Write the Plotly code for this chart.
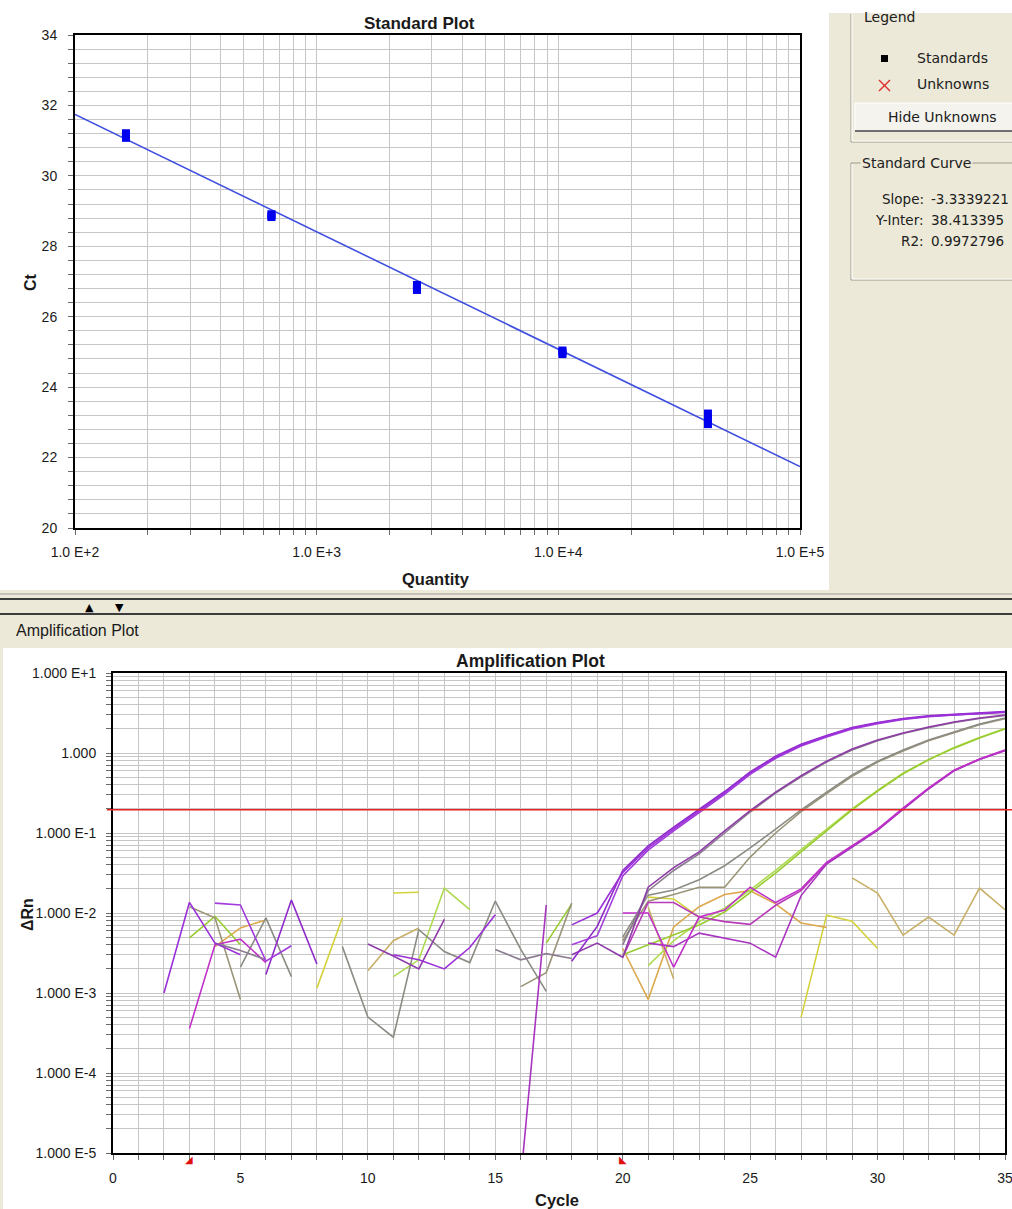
import math
import plotly.graph_objects as go

W, H = 1012, 1209
BEIGE = "#ECE9D8"

# ---------------- Standard plot data ----------------
std_quantity = [162.5, 650, 2600, 10400, 41600]
std_ct_rep1 = [31.21, 28.91, 26.90, 25.04, 23.25]
std_ct_rep2 = [31.15, 28.87, 26.83, 24.99, 23.10]
std_ct_rep3 = [31.08, 28.83, 26.76, 24.94, 22.95]
curve_slope = -3.3339221
curve_intercept = 38.413395
curve_r2 = 0.9972796
quantity_range = [1e2, 1e5]

std_x_tick_labels = ["1.0 E+2", "1.0 E+3", "1.0 E+4", "1.0 E+5"]
std_y_tick_labels = ["20", "22", "24", "26", "28", "30", "32", "34"]

# ---------------- Amplification plot data (delta Rn per cycle 1..35) ----------------
cycles = list(range(1, 36))
N = None
rn_a1 = [N, 0.0010, 0.0136, 0.0042, 0.0030, N, N, N, N, N,
         0.0030, 0.0026, 0.0020, 0.0037, 0.0095, N, N, 0.0071, 0.0100, 0.0320,
         0.0650, 0.1120, 0.1900, 0.3200, 0.5600, 0.8900, 1.2600, 1.6300, 2.0500, 2.3700,
         2.6600, 2.8800, 3.0000, 3.1200, 3.2500]
rn_a2 = [N, N, N, 0.0133, 0.0126, 0.0025, 0.0039, N, N, N,
         N, N, N, N, N, N, N, 0.0040, 0.0052, 0.0290,
         0.0610, 0.1060, 0.1820, 0.3050, 0.5400, 0.8600, 1.2200, 1.5900, 2.0000, 2.3300,
         2.6200, 2.8400, 2.9800, 3.1000, 3.2200]
rn_a3 = [N, N, N, N, N, 0.0017, 0.0145, 0.0023, N, N,
         N, N, N, N, N, N, N, 0.0025, 0.0068, 0.0340,
         0.0690, 0.1180, 0.1980, 0.3300, 0.5800, 0.9100, 1.2900, 1.6600, 2.0800, 2.4000,
         2.6900, 2.9100, 3.0400, 3.1600, 3.2900]
rn_b1 = [N, N, N, N, N, N, N, N, N, 0.0041,
         0.0029, 0.0020, 0.0083, N, N, N, N, 0.0030, 0.0042, 0.0028,
         0.0210, 0.0370, 0.0580, 0.1060, 0.1900, 0.3250, 0.5200, 0.7900, 1.1200, 1.4500,
         1.7800, 2.1100, 2.4400, 2.7400, 2.9800]
rn_b2 = [N, N, N, 0.0042, 0.0034, 0.0026, N, N, N, N,
         N, N, N, N, 0.0035, 0.0026, 0.0031, 0.0027, N, 0.0040,
         0.0190, 0.0340, 0.0550, 0.1000, 0.1830, 0.3150, 0.5050, 0.7700, 1.0900, 1.4200,
         1.7500, 2.0700, 2.4000, 2.7000, 2.9400]
rn_c1 = [N, N, N, N, 0.0021, 0.0087, 0.0016, N, 0.0038, 0.0005,
         0.00028, 0.0062, 0.0033, 0.0024, 0.0141, 0.0035, 0.00105, N, N, 0.0050,
         0.0167, 0.0194, 0.0260, 0.0390, 0.0650, 0.1120, 0.1940, 0.3250, 0.5300, 0.7900,
         1.0900, 1.4500, 1.8300, 2.3000, 2.7400]
rn_c2 = [N, N, 0.0120, 0.0087, 0.00083, N, N, N, N, N,
         N, N, N, N, N, 0.0012, 0.0018, 0.0133, N, 0.0045,
         0.0140, 0.0170, 0.0210, 0.0210, 0.0500, 0.1000, 0.1850, 0.3100, 0.5100, 0.7700,
         1.0600, 1.4200, 1.8000, 2.2500, 2.6800]
rn_d1 = [N, N, 0.0049, 0.0091, 0.0040, N, N, N, N, N,
         N, N, N, N, N, N, 0.0042, 0.0130, N, 0.0030,
         0.0040, 0.0053, 0.0071, 0.0103, 0.0178, 0.0316, 0.0580, 0.1060, 0.1940, 0.3350,
         0.5500, 0.8200, 1.1500, 1.5400, 2.0000]
rn_d2 = [N, N, N, N, N, N, N, N, N, N,
         0.0016, 0.0026, 0.0205, 0.0110, N, N, N, N, N, N,
         0.0022, 0.0045, 0.0078, 0.0115, 0.0195, 0.0340, 0.0620, 0.1120, 0.2000, 0.3400,
         0.5600, 0.8300, 1.1700, 1.5600, 2.0200]
rn_e1 = [N, N, 0.00036, 0.0040, 0.0047, 0.0024, N, N, N, N,
         N, N, N, N, N, N, N, N, N, 0.0100,
         0.0100, 0.0021, 0.0089, 0.0109, 0.0210, 0.0135, 0.0200, 0.0430, 0.0690, 0.1120,
         0.2050, 0.3650, 0.6100, 0.8400, 1.0900]
rn_e2 = [N, N, N, N, N, N, N, N, N, N,
         N, N, N, N, N, 0.0000047, 0.0126, N, N, N,
         0.0042, 0.0038, 0.0056, 0.0049, 0.0042, 0.0028, 0.0165, 0.0410, 0.0670, 0.1080,
         0.1980, 0.3550, 0.6000, 0.8300, 1.0700]
rn_e3 = [N, N, N, N, N, N, N, N, N, N,
         N, N, N, N, N, N, N, N, N, 0.0028,
         0.0135, 0.0135, 0.0089, 0.0078, 0.0072, 0.0125, 0.0190, 0.0420, 0.0680, 0.1100,
         0.2020, 0.3600, 0.6050, 0.8350, 1.0800]
rn_tan = [N, N, N, N, N, N, N, N, N, 0.0019,
          0.0045, 0.0065, N, N, N, N, N, N, N, N,
          0.0118, 0.0015, N, N, N, N, N, N, 0.0275, 0.0178,
          0.0053, 0.0089, 0.0053, 0.0205, 0.0110]
rn_yellow = [N, N, N, N, N, N, N, 0.00115, 0.0087, N,
             0.0178, 0.0182, N, N, N, N, N, N, N, N,
             0.0158, 0.0150, 0.0089, N, N, N, 0.0005, 0.0094, 0.0079, 0.0036,
             N, N, N, N, N]
rn_orange = [N, N, N, 0.0038, 0.0065, 0.0082, N, N, N, N,
             N, N, N, N, N, N, N, N, N, 0.0036,
             0.00083, 0.0067, 0.0120, 0.0170, 0.0190, 0.0130, 0.0075, 0.0066, N, N,
             N, N, N, N, N]

threshold = 0.195
baseline_start = 3
baseline_end = 20

amp_x_tick_labels = ["0", "5", "10", "15", "20", "25", "30", "35"]
amp_y_tick_labels = ["1.000 E-5", "1.000 E-4", "1.000 E-3", "1.000 E-2",
                     "1.000 E-1", "1.000", "1.000 E+1"]

amp_series = [
    (rn_tan, "#C8B068"), (rn_yellow, "#D4D23C"), (rn_orange, "#DCA84C"),
    (rn_d2, "#AEDA50"), (rn_d1, "#98CC30"),
    (rn_c2, "#9A9478"), (rn_c1, "#8C8C84"),
    (rn_e3, "#B83AB8"), (rn_e2, "#A834C0"), (rn_e1, "#C030C8"),
    (rn_b2, "#8C7C90"), (rn_b1, "#8E3CA8"),
    (rn_a3, "#8F2ACB"), (rn_a2, "#A23CDC"), (rn_a1, "#9B30D8"),
]


def px(x):
    return x / W


def py(y):
    return 1 - y / H


fig = go.Figure()

# ---- Standard curve ----
fit_ct = [curve_slope * math.log10(q) + curve_intercept for q in quantity_range]
fig.add_trace(go.Scatter(x=quantity_range, y=fit_ct, mode="lines",
                         line=dict(color="#3F4FE0", width=1.6),
                         xaxis="x", yaxis="y", hoverinfo="skip"))
for reps in (std_ct_rep1, std_ct_rep2, std_ct_rep3):
    fig.add_trace(go.Scatter(x=std_quantity, y=reps, mode="markers",
                             marker=dict(symbol="square", size=8, color="#0000EE"),
                             xaxis="x", yaxis="y"))

# ---- Amplification curves ----
for vals, col in amp_series:
    fig.add_trace(go.Scatter(x=cycles, y=vals, mode="lines",
                             line=dict(color=col, width=1.6),
                             connectgaps=False, xaxis="x2", yaxis="y2"))

# ---- tick arrays ----
sx_vals, sx_text = [], []
for k in range(2, 5):
    for m in range(1, 10):
        sx_vals.append(m * 10 ** k)
        sx_text.append(std_x_tick_labels[k - 2] if m == 1 else "")
sx_vals.append(10 ** 5)
sx_text.append(std_x_tick_labels[3])

sy_vals, sy_text = [], []
for i in range(36):
    v = 20 + 0.4 * i
    r = round(v)
    sy_vals.append(v)
    if abs(v - r) < 1e-6 and r % 2 == 0:
        sy_text.append(std_y_tick_labels[(r - 20) // 2])
    else:
        sy_text.append("")

ax_vals = list(range(0, 36))
ax_text = [amp_x_tick_labels[i // 5] if i % 5 == 0 else "" for i in ax_vals]

ay_vals, ay_text = [], []
for k in range(-5, 1):
    for m in range(1, 10):
        ay_vals.append(m * 10.0 ** k)
        ay_text.append(amp_y_tick_labels[k + 5] if m == 1 else "")
ay_vals.append(10.0)
ay_text.append(amp_y_tick_labels[6])

tickfont = dict(family="Liberation Sans, Arial", size=14, color="#1A1A1A")
common = dict(showgrid=True, gridcolor="#C6C6C6", gridwidth=1, zeroline=False,
              showline=True, linecolor="#000000", linewidth=2, mirror=True,
              ticks="outside", ticklen=5, tickwidth=1, tickcolor="#6A6A6A",
              tickfont=tickfont, tickmode="array", fixedrange=True, automargin=False,
              ticklabeloverflow="allow")

# ---- shapes ----
shapes = []


def rect(x0, y0, x1, y1, fill, lc=None, lw=0, layer="below"):
    d = dict(type="rect", xref="paper", yref="paper", x0=px(x0), x1=px(x1),
             y0=py(y1), y1=py(y0), fillcolor=fill, layer=layer,
             line=dict(width=lw, color=lc or fill))
    shapes.append(d)


def line(x0, y0, x1, y1, color, width=1, layer="below"):
    shapes.append(dict(type="line", xref="paper", yref="paper", x0=px(x0), x1=px(x1),
                       y0=py(y0), y1=py(y1), line=dict(color=color, width=width), layer=layer))


# white panels
rect(0, 0, 829, 590, "#FFFFFF")
rect(829, 0, 1012, 13, "#FFFFFF")
rect(3, 648, 1012, 1209, "#FFFFFF")

# separator
line(0, 594, 1012, 594, "#9A9A9A", 1)
line(0, 599, 1012, 599, "#3C3C3C", 2)
line(0, 614, 1012, 614, "#3C3C3C", 2)

# legend group box
line(851, 14, 851, 142, "#9C9A8C", 1)
line(852, 14, 852, 141, "#FFFFFF", 1)
line(851, 142, 1012, 142, "#9C9A8C", 1)
line(852, 141, 1012, 141, "#FFFFFF", 1)
# legend symbols
rect(881, 55, 888, 62, "#000000")
line(879, 80, 890, 91, "#E03030", 1.4)
line(879, 91, 890, 80, "#E03030", 1.4)
# button
rect(855, 103, 1012, 131, "#F4F3EE")
line(855, 103, 1012, 103, "#FFFFFF", 1)
line(855, 103, 855, 131, "#FFFFFF", 1)
line(855, 131, 1012, 131, "#6F6F6F", 2)
# standard curve group box
line(851, 163, 1012, 163, "#9C9A8C", 1)
line(851, 163, 851, 280, "#9C9A8C", 1)
line(852, 164, 852, 279, "#FFFFFF", 1)
line(851, 280, 1012, 280, "#9C9A8C", 1)
line(852, 279, 1012, 279, "#FFFFFF", 1)

# threshold line
shapes.append(dict(type="line", xref="paper", yref="y2", x0=px(107), x1=1,
                   y0=threshold, y1=threshold, line=dict(color="#E82020", width=1.6),
                   layer="above"))

# ---- annotations ----
ann = []


def text(x, y, s, size=14, family="Liberation Sans, Arial", color="#1A1A1A",
         xanchor="center", yanchor="middle", angle=0, bg=None, xref="paper"):
    d = dict(x=px(x) if xref == "paper" else x, y=py(y), xref=xref, yref="paper",
             text=s, showarrow=False, xanchor=xanchor, yanchor=yanchor, textangle=angle,
             font=dict(size=size, family=family, color=color))
    if bg:
        d["bgcolor"] = bg
    ann.append(d)


text(419, 24, "<b>Standard Plot</b>", size=17)
text(436, 579, "<b>Quantity</b>", size=16.5)
text(30, 282, "<b>Ct</b>", size=16, angle=-90)
text(530, 661, "<b>Amplification Plot</b>", size=17.5)
text(557, 1200, "<b>Cycle</b>", size=16.5)
text(27, 915, "<b>ΔRn</b>", size=16, angle=-90)
text(14, 630, "Amplification Plot", size=16, xanchor="left")
text(89, 607, "▲", size=11, family="DejaVu Sans", color="#000000")
text(119, 607, "▼", size=11, family="DejaVu Sans", color="#000000")

pf = "DejaVu Sans"
text(862, 17, "Legend", size=14, family=pf, xanchor="left", color="#202020")
text(915, 58, "Standards", size=14, family=pf, xanchor="left", color="#202020")
text(915, 84, "Unknowns", size=14, family=pf, xanchor="left", color="#202020")
text(942, 117, "Hide Unknowns", size=14, family=pf, color="#202020")
text(860, 163, "Standard Curve", size=14, family=pf, xanchor="left", color="#202020", bg=BEIGE)
text(926, 199, "Slope:", size=13.5, family=pf, xanchor="right", color="#202020")
text(926, 220, "Y-Inter:", size=13.5, family=pf, xanchor="right", color="#202020")
text(926, 241, "R2:", size=13.5, family=pf, xanchor="right", color="#202020")
text(929, 199, f"{curve_slope:.7f}", size=13.5, family=pf, xanchor="left", color="#202020")
text(929, 220, f"{curve_intercept:.6f}", size=13.5, family=pf, xanchor="left", color="#202020")
text(929, 241, f"{curve_r2:.7f}", size=13.5, family=pf, xanchor="left", color="#202020")

# baseline start / end markers
text(baseline_start, 1159, "◢", size=10, family="DejaVu Sans", color="#E01010", xref="x2")
text(baseline_end, 1159, "◣", size=10, family="DejaVu Sans", color="#E01010", xref="x2")

fig.update_layout(
    width=W, height=H, margin=dict(l=0, r=0, t=0, b=0, pad=0, autoexpand=False),
    paper_bgcolor=BEIGE, plot_bgcolor="#FFFFFF", showlegend=False,
    xaxis=dict(common, type="log", range=[2, 5], domain=[px(75), px(800)], anchor="y",
               tickvals=sx_vals, ticktext=sx_text, ticklabelstandoff=5),
    yaxis=dict(common, range=[20, 34], domain=[py(528), py(35)], anchor="x",
               tickvals=sy_vals, ticktext=sy_text, ticklabelstandoff=8),
    xaxis2=dict(common, range=[0, 35], domain=[px(113), px(1005)], anchor="y2",
                tickvals=ax_vals, ticktext=ax_text, ticklabelstandoff=6),
    yaxis2=dict(common, type="log", range=[-5, 1], domain=[py(1153), py(673)], anchor="x2",
                tickvals=ay_vals, ticktext=ay_text, ticklabelstandoff=7),
    shapes=shapes, annotations=ann,
)

fig.write_html("out.html")
